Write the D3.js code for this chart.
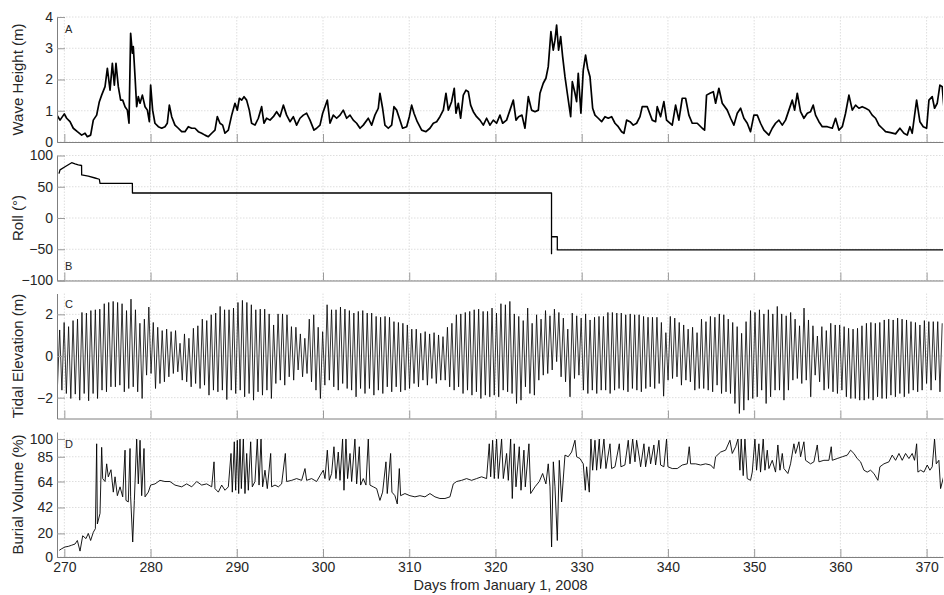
<!DOCTYPE html>
<html>
<head>
<meta charset="utf-8">
<script src="https://cdn.jsdelivr.net/npm/d3@7"></script>
<style>
  body { margin: 0; background: #fff; }
  svg { display: block; font-family: "Liberation Sans", Arial, sans-serif; }
</style>
</head>
<body>
<svg width="944" height="595"></svg>
<script>
// ---- data ----
const xTicks = [270, 280, 290, 300, 310, 320, 330, 340, 350, 360, 370];
const waveTicks = [0, 1, 2, 3, 4];
const rollTicks = [-100, -50, 0, 50, 100];
const tideTicks = [-2, 0, 2];
const burialTicks = [0, 20, 42, 64, 85, 100];

// A. wave height (m), [day, value]
const waveHeight = [
  [269.15,0.86],[269.50,0.70],[270.00,0.90],[270.27,0.76],[270.66,0.65],[271.04,0.44],[271.51,0.33],[272.01,0.22],[272.40,0.28],[272.67,0.17],
  [273.05,0.22],[273.36,0.70],[273.75,0.86],[274.06,1.29],[274.33,1.50],[274.72,1.77],[274.99,2.36],[275.30,1.66],[275.57,2.52],[275.80,1.82],
  [275.99,2.52],[276.26,1.77],[276.53,1.34],[276.77,1.34],[277.04,1.13],[277.31,1.02],[277.50,0.60],[277.69,3.48],[277.89,2.84],[278.00,3.05],
  [278.20,2.09],[278.39,1.13],[278.58,1.45],[278.78,1.24],[279.05,1.50],[279.36,1.13],[279.63,1.02],[279.86,0.65],[280.01,1.82],[280.24,1.02],
  [280.51,0.60],[280.90,0.49],[281.29,0.44],[281.67,0.49],[281.94,0.60],[282.18,1.18],[282.45,0.81],[282.83,0.54],[283.22,0.44],[283.61,0.33],
  [283.99,0.33],[284.38,0.49],[284.77,0.44],[285.15,0.44],[285.54,0.33],[285.93,0.28],[286.31,0.22],[286.70,0.17],[287.09,0.28],[287.47,0.38],
  [287.74,0.81],[288.05,0.60],[288.36,0.54],[288.63,0.28],[289.02,0.38],[289.41,0.86],[289.79,1.24],[290.06,1.02],[290.30,1.40],[290.57,1.34],
  [290.84,1.45],[291.14,1.34],[291.45,1.02],[291.72,0.60],[292.11,0.54],[292.50,0.76],[292.88,1.13],[293.15,0.60],[293.46,0.76],[293.85,0.70],
  [294.24,0.81],[294.62,0.97],[295.01,0.81],[295.40,1.18],[295.78,0.86],[296.17,0.65],[296.56,0.81],[296.94,0.54],[297.33,0.76],[297.72,0.86],
  [298.10,0.92],[298.49,0.70],[298.95,0.38],[299.26,0.44],[299.65,0.54],[299.96,0.92],[300.23,1.13],[300.50,1.34],[300.81,0.60],[301.19,0.86],
  [301.58,0.76],[301.97,0.86],[302.35,1.02],[302.74,0.76],[303.13,0.86],[303.51,0.70],[303.90,0.60],[304.29,0.44],[304.67,0.54],[305.25,0.76],
  [305.64,0.54],[306.02,0.86],[306.41,1.08],[306.60,1.56],[306.91,1.08],[307.18,0.54],[307.57,0.44],[307.96,0.54],[308.23,1.13],[308.54,1.02],
  [308.85,0.76],[309.23,0.44],[309.70,0.49],[310.01,0.81],[310.28,1.18],[310.55,0.92],[310.93,0.65],[311.44,0.38],[311.94,0.33],[312.40,0.44],
  [312.79,0.60],[313.18,0.65],[313.56,0.81],[313.95,1.02],[314.26,1.56],[314.53,1.02],[314.91,1.29],[315.22,1.72],[315.42,0.92],[315.69,1.24],
  [315.96,0.76],[316.27,1.50],[316.58,1.66],[316.85,1.61],[317.12,1.18],[317.43,0.97],[317.81,0.81],[318.20,0.70],[318.59,0.54],[318.97,0.76],
  [319.36,0.54],[319.75,0.70],[320.13,0.60],[320.52,0.86],[320.83,0.60],[321.29,0.70],[321.68,1.02],[322.07,1.34],[322.38,0.70],[322.68,0.81],
  [323.07,0.86],[323.42,0.44],[323.81,1.45],[324.19,1.02],[324.58,0.97],[324.97,1.02],[325.16,1.56],[325.54,1.88],[325.85,2.04],[326.12,2.41],
  [326.43,3.53],[326.70,2.94],[326.90,3.26],[327.09,3.74],[327.32,2.94],[327.56,3.37],[327.79,2.73],[328.06,2.09],[328.33,1.56],[328.72,0.81],
  [328.91,1.93],[329.22,1.56],[329.41,1.29],[329.60,2.20],[329.91,0.92],[330.18,2.30],[330.45,2.78],[330.69,2.36],[330.96,2.09],[331.27,1.08],
  [331.54,0.86],[331.92,0.76],[332.31,0.65],[332.70,0.81],[333.08,0.76],[333.47,0.81],[333.86,0.60],[334.24,0.49],[334.63,0.33],[334.90,0.28],
  [335.21,0.70],[335.60,0.65],[335.98,0.54],[336.37,0.60],[336.76,0.81],[337.02,1.13],[337.60,1.13],[338.18,0.70],[338.57,0.65],[338.76,1.13],
  [339.15,0.81],[339.53,1.29],[339.84,0.70],[340.50,0.54],[340.89,1.18],[341.27,0.70],[341.66,1.40],[342.05,1.40],[342.43,0.86],[342.82,0.60],
  [343.40,0.60],[343.98,0.44],[344.25,0.38],[344.48,1.50],[344.87,1.56],[345.26,1.61],[345.53,1.24],[345.91,1.72],[346.30,1.24],[346.88,1.02],
  [347.27,0.76],[347.65,0.54],[348.04,0.92],[348.43,1.08],[348.81,0.76],[349.20,0.60],[349.58,0.33],[349.97,0.86],[350.36,0.86],[350.74,0.60],
  [351.13,0.38],[351.71,0.22],[352.10,0.44],[352.48,0.60],[352.87,0.70],[353.26,0.54],[353.64,0.70],[354.03,1.02],[354.42,1.34],[354.69,1.02],
  [355.00,1.56],[355.38,0.97],[355.77,0.76],[356.16,0.92],[356.54,0.97],[356.85,1.18],[357.12,0.86],[357.51,0.65],[357.90,0.49],[358.48,0.49],
  [359.06,0.44],[359.44,0.76],[359.83,0.38],[360.22,0.49],[360.60,0.92],[360.99,1.50],[361.38,1.02],[361.76,1.18],[362.15,1.08],[362.53,1.13],
  [362.92,1.08],[363.31,1.02],[363.69,0.86],[364.08,0.76],[364.47,0.54],[364.85,0.44],[365.24,0.33],[365.82,0.30],[366.40,0.26],[366.90,0.44],
  [367.37,0.28],[367.75,0.22],[368.06,0.49],[368.33,0.28],[368.53,0.70],[368.84,1.34],[369.22,0.65],[369.61,0.49],[370.00,0.44],[370.27,1.34],
  [370.65,1.45],[370.92,1.08],[371.23,1.24],[371.54,1.82],[371.81,1.77],[372.00,1.13]
];

// B. roll (degrees), [day, value]
const rollAngle = [
  [269.38,71],[269.50,77],[270.08,82],[270.85,88.5],[271.24,86.5],[271.62,85],[272.00,84],[272.01,69],
  [272.78,67],[273.56,64],[274.06,62],[274.14,55.5],[277.89,55.5],[277.90,40],[326.50,40],[326.50,-57],
  [326.50,-30],[327.17,-30],[327.17,-51],[372.00,-51]
];

// C. tidal elevation (m): one low and one high per tide, tides every tidePeriod days
const tideStart = 269.46;
const tidePeriod = 0.5169;
const tideHigh = [
  1.25,1.61,1.41,1.70,1.77,2.09,2.06,2.18,2.22,2.25, 2.51,2.57,2.62,2.57,2.51,2.18,2.73,2.22,1.57,1.77,
  2.35,1.61,1.38,1.22,1.29,1.17,1.22,0.61,1.06,0.85, 1.33,1.45,1.77,1.70,1.98,2.06,2.38,2.22,2.22,2.30,
  2.57,2.67,2.57,2.46,2.22,2.25,2.25,2.02,1.49,2.02, 2.02,1.98,1.41,1.38,1.06,0.85,1.77,1.98,1.38,1.17,
  2.46,2.22,2.22,2.35,2.25,2.18,2.06,2.14,2.18,2.06, 2.06,1.90,1.86,1.90,1.86,1.65,1.61,1.57,1.49,1.29,
  1.29,1.09,1.17,1.06,1.12,1.01,0.93,1.38,1.57,1.98, 2.02,2.09,2.14,2.22,2.25,2.14,2.14,2.30,2.06,2.51,
  2.46,2.62,2.02,1.90,1.70,2.30,1.57,1.98,1.77, 2.18,1.93,2.25,2.09,1.82,1.29,2.06,1.93,1.82,2.02,
  1.73,1.86,1.90,1.90,2.09,2.09,2.06,2.06,1.98,2.02, 1.98,1.98,1.90,1.86,1.86,1.86,1.61,1.12,1.90,1.82,
  1.61,1.49,1.29,1.38,1.12,1.77,1.65,1.90,1.86,2.02, 1.98,1.77,1.61,1.41,1.09,1.65,2.18,2.09,2.22,2.02,
  2.22,2.02,2.38,2.02,1.93,2.09,1.77,1.45,2.30,1.73, 1.45,0.96,1.41,1.22,1.57,1.49,1.49,1.41,1.33,1.29,
  1.33,1.45,1.57,1.61,1.57,1.61,1.73,1.77,1.73,1.82, 1.77,1.73,1.65,1.61,1.49,1.70,1.65,1.65,1.65,1.57
];
const tideLow = [
  -1.48,-1.64,-1.80,-2.04,-1.83,-2.12,-1.80,-2.15,-1.80,-2.04, -1.64,-1.72,-1.48,-1.48,-1.40,-1.72,-1.56,-1.48,-1.72,-2.04,
  -0.92,-0.84,-1.56,-1.32,-1.24,-1.00,-0.84,-0.76,-1.16,-1.24, -1.48,-1.32,-1.56,-1.40,-1.88,-1.64,-1.72,-1.64,-2.09,-1.64,
  -1.80,-1.64,-1.96,-1.80,-2.12,-1.72,-1.88,-1.64,-2.04,-1.32, -1.16,-1.40,-1.00,-1.16,-0.67,-1.00,-0.84,-1.24,-1.64,-2.04,
  -1.40,-1.16,-1.48,-1.64,-1.32,-1.56,-1.64,-1.96,-1.56,-1.80, -1.56,-1.88,-1.64,-1.80,-1.48,-1.72,-1.48,-1.72,-1.64,-1.56,
  -1.32,-1.48,-1.16,-1.40,-1.08,-1.32,-1.16,-1.16,-1.48,-1.64, -1.48,-1.80,-1.64,-1.88,-1.72,-2.04,-1.88,-1.96,-1.88,-1.96,
  -1.64,-1.72,-1.80,-2.28,-2.12,-1.48,-1.80,-1.88,-1.16, -0.92,-0.84,-0.67,-0.27,-1.00,-1.24,-1.96,-1.08,-0.92,-1.64,
  -1.80,-1.64,-1.80,-1.64,-1.64,-1.80,-1.64,-1.56,-1.64,-1.72, -1.56,-1.64,-1.72,-1.56,-1.48,-1.56,-1.32,-1.93,-1.16,-1.08,
  -1.00,-1.40,-1.16,-1.24,-1.64,-1.56,-1.56,-1.64,-1.72,-1.40, -1.80,-1.72,-1.80,-2.28,-2.76,-2.60,-2.12,-2.04,-1.96,-1.64,
  -2.28,-1.96,-1.64,-1.64,-2.12,-1.64,-1.16,-1.08,-1.32,-1.16, -1.96,-0.92,-1.24,-1.64,-1.56,-1.72,-1.80,-1.64,-1.96,-2.04,
  -2.04,-2.12,-2.12,-2.04,-2.12,-1.96,-2.04,-2.04,-1.88,-1.96, -1.80,-1.96,-1.80,-1.64,-1.72,-1.64,-1.32,-1.64,-1.16,-1.72
];

// D. burial volume (%), [day, value]
const burialVolume = [
  [269.42,5.7],[269.69,7],[270.08,8.5],[270.46,9],[270.85,10],[271.24,11],[271.51,14],[271.82,5],[272.13,18],[272.51,15.6],
  [272.78,20],[273.05,14],[273.36,21],[273.60,24],[273.75,96],[273.83,28],[274.14,37],[274.33,93],[274.45,66.5],[274.72,64],
  [274.91,79],[275.10,68],[275.41,74],[275.68,55],[275.88,68],[276.15,52],[276.46,59.5],[276.77,51],[277.04,90.6],[277.15,48],
  [277.42,46.7],[277.62,92],[277.69,51],[277.93,12.7],[278.12,48],[278.39,100],[278.58,62],[278.78,99],[278.97,52],[279.24,92],
  [279.36,51],[279.74,55],[280.01,61],[280.52,62],[281.09,65],[281.67,64],[282.25,64],[282.83,61],[283.61,59.5],[284.19,62],
  [284.77,59.5],[285.35,64],[285.93,61],[286.51,62],[287.09,59.5],[287.36,80.7],[287.47,58],[287.86,55],[288.25,61],[288.63,56.6],
  [289.02,59.5],[289.33,87.8],[289.48,55],[289.71,97.7],[289.87,56.6],[290.06,99],[290.22,53.8],[290.37,100],[290.53,58],[290.76,100],
  [290.95,53.8],[291.15,87.8],[291.34,56.6],[291.61,97.7],[291.80,59.5],[292.11,64],[292.38,100],[292.58,61],[292.81,100],[293.00,59.5],
  [293.27,73.6],[293.54,58],[293.93,87.8],[294.04,59.5],[294.43,61],[294.82,59.5],[295.20,62],[295.63,87.8],[295.78,64],[296.36,65],
  [296.94,66.5],[297.52,65],[297.91,75],[298.10,65],[298.68,66.5],[299.26,64],[299.65,69],[300.03,73.6],[300.23,66.5],[300.50,90.6],
  [300.73,65],[301.00,70.8],[301.27,93.5],[301.50,66.5],[301.77,89],[301.97,65],[302.27,100],[302.43,56.6],[302.66,100],[302.85,66.5],
  [303.13,87.8],[303.32,64],[303.70,100],[303.90,62],[304.21,93.5],[304.36,61],[304.67,66.5],[304.98,61],[305.25,100],[305.44,61],
  [305.83,59.5],[306.22,58],[306.60,48],[306.91,55],[307.30,80.7],[307.45,53.8],[307.84,87.8],[307.99,55],[308.34,52],[308.61,45],
  [308.85,75],[309.00,52],[309.50,53.8],[310.08,52],[310.66,51],[311.24,52],[311.82,51],[312.40,53.8],[312.98,51],[313.56,49.6],
  [314.14,49.6],[314.72,51],[315.11,62],[315.49,64],[316.07,65],[316.65,66.5],[317.23,65],[317.81,66.5],[318.39,68],[318.97,66.5],
  [319.28,96],[319.44,68],[319.67,99],[319.86,66.5],[320.13,100],[320.33,66.5],[320.71,100],[320.91,66.5],[321.29,87.8],[321.49,65],
  [321.76,100],[321.95,49.6],[322.18,96],[322.38,59.5],[322.76,93.5],[322.96,56.6],[323.30,90.6],[323.46,59.5],[323.88,96],[324.08,53.8],
  [324.58,59.5],[325.08,64],[325.47,70.8],[325.85,62],[326.12,79],[326.32,59.5],[326.51,8.5],[326.71,80.7],[326.90,59.5],[327.17,14],
  [327.40,82],[327.67,46.7],[328.06,86.4],[328.44,85],[328.83,89],[329.22,99],[329.41,85],[329.80,83.5],[330.18,79],[330.42,56.6],
  [330.57,76.5],[330.88,55],[331.07,100],[331.27,73.6],[331.54,99],[331.73,73.6],[332.04,100],[332.19,75],[332.58,100],[332.81,75],
  [333.28,96],[333.47,75],[333.86,76.5],[334.36,96],[334.55,76.5],[335.01,78],[335.40,99],[335.60,79],[335.91,100],[336.18,80.7],
  [336.37,99],[336.76,80.7],[336.83,76.5],[337.22,96],[337.41,76.5],[337.80,93.5],[337.99,79],[338.37,95],[338.57,78],[338.95,99],
  [339.15,78],[339.53,76.5],[339.84,100],[340.00,76.5],[340.50,75],[341.08,75],[341.66,78],[342.24,79],[342.47,93.5],[342.63,79],
  [343.21,79],[343.79,78],[344.37,79],[344.95,78],[345.33,75],[345.53,85],[346.11,89],[346.69,90.6],[347.19,99],[347.46,87.8],
  [347.85,93.5],[348.12,100],[348.35,73.6],[348.50,100],[348.73,69],[348.93,100],[349.20,66.5],[349.58,65],[349.78,72],[350.09,100],
  [350.28,73.6],[350.55,96],[350.74,72],[351.05,100],[351.25,73.6],[351.52,90.6],[351.71,75],[352.10,82],[352.48,72],[352.75,95],
  [352.99,73.6],[353.26,87.8],[353.45,75],[353.91,70.8],[354.22,79],[354.61,96],[354.80,87.8],[355.19,97.7],[355.38,85],[355.77,97.7],
  [355.96,82],[356.54,79],[356.93,80.7],[357.32,95],[357.51,80.7],[358.09,82],[358.67,82],[358.94,93.5],[359.06,82],[359.63,83.5],
  [360.22,85],[360.80,86.4],[361.18,90.6],[361.57,87.8],[361.95,83.5],[362.34,80.7],[362.73,73.6],[363.11,72],[363.50,73.6],[363.89,70.8],
  [364.35,65],[364.58,76.5],[365.05,79],[365.63,80.7],[366.01,86.4],[366.40,82],[366.79,87.8],[367.17,82],[367.56,87.8],[367.95,83.5],
  [368.33,87.8],[368.60,82],[368.84,96],[368.99,72],[369.30,73.6],[369.69,72],[370.07,78],[370.38,73.6],[370.65,76.5],[370.92,100],
  [371.12,79],[371.42,82],[371.62,58],[372.00,69]
];

// tide line: low then high for each tide
const tideSeries = [];
tideHigh.forEach((h, i) => {
  const t = tideStart + i * tidePeriod;
  tideSeries.push([t - tidePeriod / 2, tideLow[i]]);
  tideSeries.push([t, h]);
});

// ---- layout ----
const svg = d3.select("svg");
const left = 57, right = 943, panelH = 125;
const axisColor = "#7f7f7f", textColor = "#262626";

const x = d3.scaleLinear().domain([269.15, 371.9]).range([left, right]);

const panels = [
  { top: 17,    domain: [0, 4],      ticks: waveTicks,   label: "Wave Height (m)",     letter: "A", letterY: 33,  data: waveHeight,   width: 1.7 },
  { top: 155.5, domain: [-100, 100], ticks: rollTicks,   label: "Roll (\u00b0)",       letter: "B", letterY: 270, data: rollAngle,    width: 1.3 },
  { top: 293.5, domain: [-3, 3],     ticks: tideTicks,   label: "Tidal Elevation (m)", letter: "C", letterY: 308, data: tideSeries,   width: 0.8 },
  { top: 432,   domain: [0, 106],    ticks: burialTicks, label: "Burial Volume (%)",   letter: "D", letterY: 448, data: burialVolume, width: 0.9 }
];

panels.forEach((p, i) => {
  const bottom = p.top + panelH;
  const y = d3.scaleLinear().domain(p.domain).range([bottom, p.top]);
  const g = svg.append("g");

  // grid
  g.selectAll(".gx").data(xTicks).enter().append("line")
    .attr("x1", d => x(d)).attr("x2", d => x(d))
    .attr("y1", p.top).attr("y2", bottom)
    .attr("stroke", "#dedede").attr("stroke-width", 1).attr("stroke-dasharray", "1.5,1.5");
  g.selectAll(".gy").data(p.ticks).enter().append("line")
    .attr("x1", left).attr("x2", right)
    .attr("y1", d => y(d)).attr("y2", d => y(d))
    .attr("stroke", "#dedede").attr("stroke-width", 1).attr("stroke-dasharray", "1.5,1.5");

  // data line
  svg.append("clipPath").attr("id", "clip" + i)
    .append("rect").attr("x", left).attr("y", p.top - 1).attr("width", right - left).attr("height", panelH + 2);
  g.append("path")
    .datum(p.data)
    .attr("clip-path", `url(#clip${i})`)
    .attr("fill", "none")
    .attr("stroke", "#000")
    .attr("stroke-width", p.width)
    .attr("stroke-linejoin", "round")
    .attr("d", d3.line().x(d => x(d[0])).y(d => y(d[1])));

  // axes
  const yAxis = g.append("g")
    .attr("transform", `translate(${left},0)`)
    .call(d3.axisLeft(y).tickValues(p.ticks).tickSizeInner(-8).tickSizeOuter(0).tickPadding(4)
      .tickFormat(d3.format("d")));
  const xAxis = g.append("g")
    .attr("transform", `translate(0,${bottom})`)
    .call(d3.axisBottom(x).tickValues(xTicks).tickSizeInner(-8).tickSizeOuter(0).tickPadding(5)
      .tickFormat(i === 3 ? d3.format("d") : () => ""));
  [yAxis, xAxis].forEach(a => {
    a.select(".domain").attr("stroke", axisColor);
    a.selectAll(".tick line").attr("stroke", "#9a9a9a");
    a.selectAll(".tick text").attr("fill", textColor).style("font-size", "14px")
      .style("font-family", "'Liberation Sans', Arial, sans-serif");
  });

  // y label
  g.append("text")
    .attr("transform", `translate(23,${p.top + panelH / 2}) rotate(-90)`)
    .attr("text-anchor", "middle")
    .attr("fill", textColor)
    .style("font-size", "15px")
    .text(p.label);

  // panel letter
  g.append("text")
    .attr("x", 65).attr("y", p.letterY)
    .attr("fill", textColor)
    .style("font-size", "11px")
    .text(p.letter);
});

svg.append("text")
  .attr("x", (left + right) / 2 + 0.5).attr("y", 590)
  .attr("text-anchor", "middle")
  .attr("fill", textColor)
  .style("font-size", "14.5px")
  .text("Days from January 1, 2008");
</script>
</body>
</html>
